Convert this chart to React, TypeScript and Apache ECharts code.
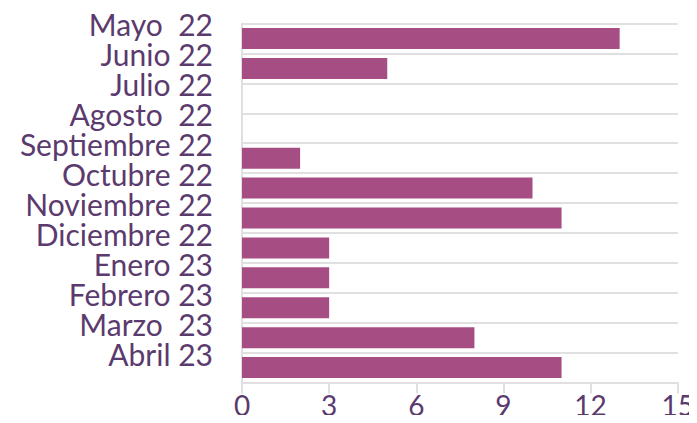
import React, { useEffect, useRef } from "react";
import * as echarts from "echarts";

const categories = [
  "Mayo  22",
  "Junio 22",
  "Julio 22",
  "Agosto  22",
  "Septiembre 22",
  "Octubre 22",
  "Noviembre 22",
  "Diciembre 22",
  "Enero 23",
  "Febrero 23",
  "Marzo  23",
  "Abril 23",
];
const values = [13, 5, 0, 0, 2, 10, 11, 3, 3, 3, 8, 11];
const xTicks = { min: 0, max: 15, interval: 3 };

const TEXT = "#5b3a6e";
const BAR = "#a64d83";
const GRID = "#e0e0e0";
const FONT = "Lato";

export default function App() {
  const ref = useRef<HTMLDivElement>(null);
  useEffect(() => {
    if (!ref.current) return;
    const chart = echarts.init(ref.current, null, { renderer: "svg" });
    chart.setOption({
      animation: false,
      grid: { left: 242, right: 17, top: 23.5, bottom: 40.5, containLabel: false },
      xAxis: {
        type: "value",
        min: xTicks.min,
        max: xTicks.max,
        interval: xTicks.interval,
        splitLine: { show: false },
        axisLine: { show: true, lineStyle: { color: GRID, width: 2 } },
        axisTick: { show: true, length: 11, lineStyle: { color: GRID, width: 2 } },
        axisLabel: { color: TEXT, fontSize: 28, fontFamily: FONT, margin: 7, lineHeight: 30 },
      },
      yAxis: {
        type: "category",
        data: categories,
        inverse: true,
        axisLine: { show: true, lineStyle: { color: GRID, width: 2 } },
        axisTick: { show: false },
        splitLine: { show: true, lineStyle: { color: GRID, width: 2 } },
        axisLabel: {
          interval: 0,
          color: TEXT,
          fontSize: 30,
          fontFamily: FONT,
          margin: 29,
          verticalAlign: "bottom",
          lineHeight: 28,
        },
      },
      series: [
        {
          type: "bar",
          data: values,
          barWidth: 21,
          itemStyle: { color: BAR },
        },
      ],
    });
    return () => chart.dispose();
  }, []);
  return <div ref={ref} style={{ width: 697, height: 423, margin: -8 }} />;
}
